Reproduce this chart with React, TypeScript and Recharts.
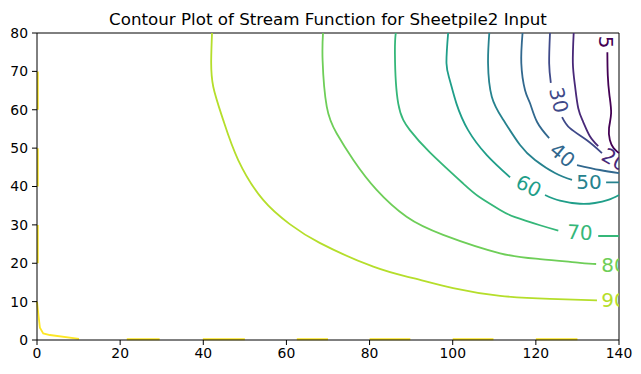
import { LineChart, Line, XAxis, YAxis, ReferenceLine, ReferenceDot } from 'recharts'

type Pt = { x: number; y: number | null }

const xTicks = [0, 20, 40, 60, 80, 100, 120, 140]
const yTicks = [0, 10, 20, 30, 40, 50, 60, 70, 80]

// contour lines, a null y breaks the line where a label sits
const level100: Pt[] = [
  { x: 0.2, y: 70 }, { x: 0.2, y: 60 }, { x: 0.2, y: null },
  { x: 0.2, y: 50 }, { x: 0.2, y: 40 }, { x: 0.2, y: null },
  { x: 0.2, y: 30 }, { x: 0.2, y: 20 }, { x: 0.2, y: null },
  { x: 0, y: 10 }, { x: 0.4, y: 6 }, { x: 0.7, y: 3.2 }, { x: 1.5, y: 1.7 }, { x: 3.1, y: 1.3 }, { x: 10.1, y: 0.3 }, { x: 10.1, y: null },
  { x: 21.6, y: 0.2 }, { x: 29.5, y: 0.2 }, { x: 29.5, y: null },
  { x: 39.9, y: 0.2 }, { x: 50, y: 0.2 }, { x: 50, y: null },
  { x: 62.5, y: 0.2 }, { x: 70, y: 0.2 }, { x: 70, y: null },
  { x: 80, y: 0.2 }, { x: 89.8, y: 0.2 }, { x: 89.8, y: null },
  { x: 100, y: 0.2 }, { x: 109.8, y: 0.2 }, { x: 109.8, y: null },
  { x: 120, y: 0.2 }, { x: 130, y: 0.2 },
]
const level90: Pt[] = [
  { x: 42.1, y: 80 }, { x: 41.9, y: 72.9 }, { x: 42.4, y: 66 }, { x: 44.8, y: 57.3 }, { x: 48.4, y: 46.9 },
  { x: 54.4, y: 36.5 }, { x: 60.8, y: 30.2 }, { x: 68, y: 25.3 }, { x: 80.9, y: 19.1 }, { x: 90.5, y: 16.1 },
  { x: 100.1, y: 13.5 }, { x: 111.4, y: 11.5 }, { x: 123.4, y: 10.7 }, { x: 134.7, y: 10.3 },
]
const level80: Pt[] = [
  { x: 68.8, y: 80 }, { x: 68.7, y: 72.9 }, { x: 69.7, y: 60.8 }, { x: 72.1, y: 53.8 }, { x: 76.1, y: 46.9 },
  { x: 81.7, y: 39.1 }, { x: 88.9, y: 32.1 }, { x: 97.7, y: 27.4 }, { x: 111.4, y: 22.6 }, { x: 121, y: 21.1 },
  { x: 130.6, y: 20.1 }, { x: 134.5, y: 19.8 },
]
const level70: Pt[] = [
  { x: 86.3, y: 80 }, { x: 86.1, y: 74.6 }, { x: 86.9, y: 61.6 }, { x: 89.7, y: 54.7 }, { x: 94.5, y: 48.9 },
  { x: 102.5, y: 40.8 }, { x: 106.5, y: 37.2 }, { x: 111.4, y: 33.9 }, { x: 115, y: 32 }, { x: 121, y: 29.9 },
  { x: 125.4, y: 28.5 }, { x: 125.4, y: null }, { x: 135, y: 27.1 }, { x: 140, y: 27.1 },
]
const level60: Pt[] = [
  { x: 98.9, y: 80 }, { x: 98.5, y: 72.1 }, { x: 99.3, y: 67.7 }, { x: 100.9, y: 61.6 }, { x: 103.7, y: 54.7 },
  { x: 108.2, y: 48.2 }, { x: 113.8, y: 42.4 }, { x: 113.8, y: null },
  { x: 122.2, y: 37.8 }, { x: 125.8, y: 36.3 }, { x: 130.6, y: 35.5 }, { x: 134.2, y: 35.7 },
  { x: 137.4, y: 36.5 }, { x: 140, y: 37.8 },
]
const level50: Pt[] = [
  { x: 108.8, y: 80 }, { x: 108.5, y: 72.1 }, { x: 109.4, y: 63.4 }, { x: 112.2, y: 57.3 }, { x: 116.2, y: 50.8 },
  { x: 119.8, y: 46.9 }, { x: 124.6, y: 43.5 }, { x: 128.7, y: 41.7 }, { x: 128.7, y: null },
  { x: 136.9, y: 41.1 }, { x: 140, y: 41.1 },
]
const level40: Pt[] = [
  { x: 116.8, y: 80 }, { x: 116.5, y: 72.1 }, { x: 117.4, y: 65.1 }, { x: 118.6, y: 61.7 }, { x: 120.3, y: 56.8 },
  { x: 123.2, y: 52.6 }, { x: 123.2, y: null }, { x: 129.9, y: 45.6 }, { x: 135.4, y: 44.3 }, { x: 140, y: 43.5 },
]
const level30: Pt[] = [
  { x: 123.4, y: 80 }, { x: 123.2, y: 72.1 }, { x: 123.6, y: 67 }, { x: 123.6, y: null },
  { x: 126.3, y: 58.1 }, { x: 128.2, y: 55.2 }, { x: 132.2, y: 52.1 }, { x: 135.9, y: 48.7 },
]
const level20: Pt[] = [
  { x: 129.1, y: 80 }, { x: 128.9, y: 72.2 }, { x: 129.4, y: 66.4 }, { x: 130.2, y: 60.4 }, { x: 131.4, y: 56.8 },
  { x: 133, y: 53.1 }, { x: 135, y: 50.5 },
]
const level10: Pt[] = [
  { x: 137.2, y: 75 }, { x: 137.3, y: 69 }, { x: 137.7, y: 63.8 }, { x: 138.1, y: 59.1 }, { x: 137.6, y: 55.2 },
  { x: 137.8, y: 52.1 }, { x: 138.7, y: 50 }, { x: 140, y: 48.7 },
]

const contours = [
  { name: 'c100', data: level100, color: '#fde725', curve: 'linear' },
  { name: 'c90', data: level90, color: '#b5de2b', curve: 'natural' },
  { name: 'c80', data: level80, color: '#6ece58', curve: 'natural' },
  { name: 'c70', data: level70, color: '#35b779', curve: 'natural' },
  { name: 'c60', data: level60, color: '#1f9e89', curve: 'natural' },
  { name: 'c50', data: level50, color: '#26828e', curve: 'natural' },
  { name: 'c40', data: level40, color: '#31688e', curve: 'natural' },
  { name: 'c30', data: level30, color: '#3e4989', curve: 'natural' },
  { name: 'c20', data: level20, color: '#482878', curve: 'natural' },
  { name: 'c10', data: level10, color: '#440154', curve: 'natural' },
]

const labelTexts = ['90', '80', '70', '60', '50', '40', '30', '20', '5']
const labelX = [138.8, 138.8, 130.6, 118.3, 132.8, 126.4, 125.5, 138.9, 136.9]
const labelY = [10.4, 19.5, 28.0, 40.1, 41.3, 48.2, 62.5, 47.0, 77.6]
const labelAngle = [0, 0, 3, 27, 0, 40, 77, 30, 90]
const labelColor = ['#b5de2b', '#6ece58', '#35b779', '#1f9e89', '#26828e', '#31688e', '#3e4989', '#482878', '#440154']

const W = 641
const H = 374
const M = { top: 33, right: 22, bottom: 0, left: 0 }
const Y_AXIS_W = 37
const X_AXIS_H = 34

const font = 'DejaVu Sans, sans-serif'
const tickStyle = { fill: '#000', fontSize: 13.9, fontFamily: font }

export default function App() {
  const plotX = M.left + Y_AXIS_W
  const plotY = M.top
  const plotW = W - plotX - M.right
  const plotH = H - M.top - M.bottom - X_AXIS_H
  return (
    <div style={{ position: 'absolute', left: 0, top: 0, width: W, height: H, background: '#fff' }}>
      <div
        style={{
          position: 'absolute', left: plotX, top: 9, width: plotW, textAlign: 'center',
          fontFamily: font, fontSize: 16.7, lineHeight: '20px', color: '#000',
        }}
      >
        Contour Plot of Stream Function for Sheetpile2 Input
      </div>
      <div style={{ position: 'absolute', left: 0, top: 0 }}>
        <LineChart width={W} height={H} margin={M}>
          <XAxis
            type="number"
            dataKey="x"
            domain={[0, 140]}
            ticks={xTicks}
            height={X_AXIS_H}
            tickSize={5}
            tickMargin={3}
            stroke="#000"
            tick={tickStyle}
          />
          <YAxis
            type="number"
            dataKey="y"
            domain={[0, 80]}
            ticks={yTicks}
            width={Y_AXIS_W}
            tickSize={5}
            tickMargin={4}
            stroke="#000"
            tick={tickStyle}
          />
          <ReferenceLine y={80} stroke="#000" strokeWidth={1} />
          <ReferenceLine x={140} stroke="#000" strokeWidth={1} />
          {contours.map((c) => (
            <Line
              key={c.name}
              data={c.data}
              dataKey="y"
              type={c.curve as any}
              stroke={c.color}
              strokeWidth={1.8}
              dot={false}
              activeDot={false}
              connectNulls={false}
              isAnimationActive={false}
            />
          ))}
          {labelTexts.map((t, i) => (
            <ReferenceDot
              key={'lbl' + t}
              x={labelX[i]}
              y={labelY[i]}
              r={0}
              ifOverflow="visible"
              shape={(p: any) => (
                <g>
                  <defs>
                    <clipPath id={'clip-lbl-' + i}>
                      <rect x={plotX} y={plotY} width={plotW} height={plotH} />
                    </clipPath>
                  </defs>
                  <g clipPath={`url(#clip-lbl-${i})`}>
                    <text
                      x={p.cx}
                      y={p.cy}
                      textAnchor="middle"
                      dominantBaseline="central"
                      transform={`rotate(${labelAngle[i]} ${p.cx} ${p.cy})`}
                      fill={labelColor[i]}
                      fontSize={20}
                      fontFamily={font}
                    >
                      {t}
                    </text>
                  </g>
                </g>
              )}
            />
          ))}
        </LineChart>
      </div>
    </div>
  )
}
